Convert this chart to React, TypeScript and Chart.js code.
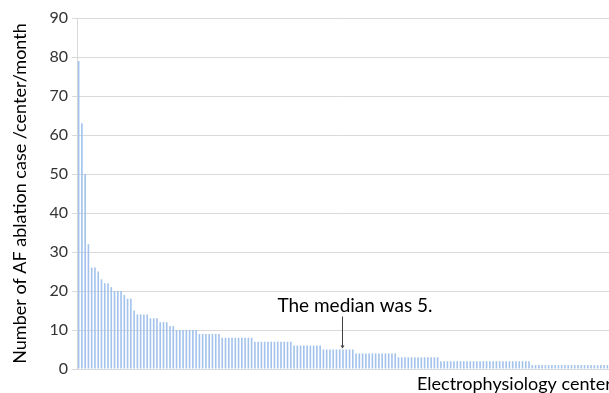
import React, { useEffect, useRef } from "react";
import { Chart, registerables } from "chart.js";

Chart.register(...registerables);

const levelValues = [79, 63, 50, 32, 26, 26, 25, 23, 22, 22, 21, 20, 20, 20, 19, 18, 18, 15, 14, 14, 14, 14, 13, 13, 13, 12, 12, 12, 11, 11];
const tens = [10, 10, 10, 10, 10, 10, 10];
const nines = [9, 9, 9, 9, 9, 9, 9];
const eights = [8, 8, 8, 8, 8, 8, 8, 8, 8, 8];
const sevens = [7, 7, 7, 7, 7, 7, 7, 7, 7, 7, 7, 7];
const sixes = [6, 6, 6, 6, 6, 6, 6, 6, 6];
const fives = [5, 5, 5, 5, 5, 5, 5, 5, 5, 5];
const fours = [4, 4, 4, 4, 4, 4, 4, 4, 4, 4, 4, 4, 4];
const threes = [3, 3, 3, 3, 3, 3, 3, 3, 3, 3, 3, 3, 3];
const twos = [2, 2, 2, 2, 2, 2, 2, 2, 2, 2, 2, 2, 2, 2, 2, 2, 2, 2, 2, 2, 2, 2, 2, 2, 2, 2, 2, 2];
const ones = [1, 1, 1, 1, 1, 1, 1, 1, 1, 1, 1, 1, 1, 1, 1, 1, 1, 1, 1, 1, 1, 1, 1, 1];

const caseCounts = [...levelValues, ...tens, ...nines, ...eights, ...sevens, ...sixes, ...fives, ...fours, ...threes, ...twos, ...ones];
const centers = caseCounts.map((_, i) => String(i + 1));

const yAxisTitle = "Number of AF ablation case /center/month";
const xAxisTitle = "Electrophysiology centers";
const medianLabel = "The median was 5.";
const medianIndex = 81;
const medianValue = 5;

const FONT = "Lato, 'Open Sans', sans-serif";
const TEXT = "#333333";

export default function App() {
  const ref = useRef<HTMLCanvasElement | null>(null);

  useEffect(() => {
    const canvas = ref.current;
    if (!canvas) return;

    const annotate = {
      id: "annotate",
      afterDraw(chart: any) {
        const { ctx, chartArea } = chart;
        const xs = chart.scales.x;
        const ys = chart.scales.y;
        ctx.save();
        const px = xs.getPixelForValue(medianIndex) - 1;
        const py = ys.getPixelForValue(medianValue);
        ctx.strokeStyle = "#404040";
        ctx.fillStyle = "#404040";
        ctx.lineWidth = 1;
        ctx.beginPath();
        ctx.moveTo(px + 0.5, py - 33);
        ctx.lineTo(px + 0.5, py - 3);
        ctx.stroke();
        ctx.beginPath();
        ctx.moveTo(px - 1.5, py - 4);
        ctx.lineTo(px + 2.5, py - 4);
        ctx.lineTo(px + 0.5, py - 1);
        ctx.closePath();
        ctx.fill();
        ctx.font = `19px ${FONT}`;
        ctx.fillStyle = "#000000";
        ctx.textAlign = "center";
        ctx.textBaseline = "alphabetic";
        ctx.fillText(medianLabel, px + 13, py - 38);
        ctx.font = `18px ${FONT}`;
        ctx.fillStyle = "#000000";
        ctx.textAlign = "left";
        ctx.fillText(xAxisTitle, chartArea.left + 340, chartArea.bottom + 21);
        ctx.restore();
      },
    };

    const chart = new Chart(canvas, {
      type: "bar",
      data: {
        labels: centers,
        datasets: [
          {
            data: caseCounts,
            backgroundColor: "#a3c3ec",
            borderWidth: 0,
            barPercentage: 0.5,
            categoryPercentage: 1,
          },
        ],
      },
      options: {
        responsive: false,
        animation: false,
        devicePixelRatio: 1,
        layout: { padding: { top: 18, left: 0, right: 0, bottom: 0 } },
        plugins: {
          legend: { display: false },
          tooltip: { enabled: false },
        },
        scales: {
          x: {
            type: "category",
            grid: { display: false },
            border: { display: false },
            ticks: { display: false },
            afterFit(scale: any) {
              scale.height = 24;
            },
          },
          y: {
            min: 0,
            max: 90,
            ticks: {
              stepSize: 10,
              color: TEXT,
              font: { family: FONT, size: 16 },
              padding: 4,
            },
            grid: { color: "#d9d9d9", lineWidth: 1, tickLength: 5 },
            border: { color: "#d9d9d9" },
            title: {
              display: true,
              text: yAxisTitle,
              color: "#000000",
              font: { family: FONT, size: 18 },
              padding: { top: 9, bottom: 0 },
            },
            afterFit(scale: any) {
              scale.width = 77;
            },
          },
        },
      },
      plugins: [annotate],
    });

    return () => chart.destroy();
  }, []);

  return (
    <div style={{ position: "fixed", left: 0, top: 0, width: 609, height: 393, overflow: "hidden", background: "#ffffff" }}>
      <canvas ref={ref} width={609} height={393} style={{ width: 609, height: 393, display: "block" }} />
    </div>
  );
}
